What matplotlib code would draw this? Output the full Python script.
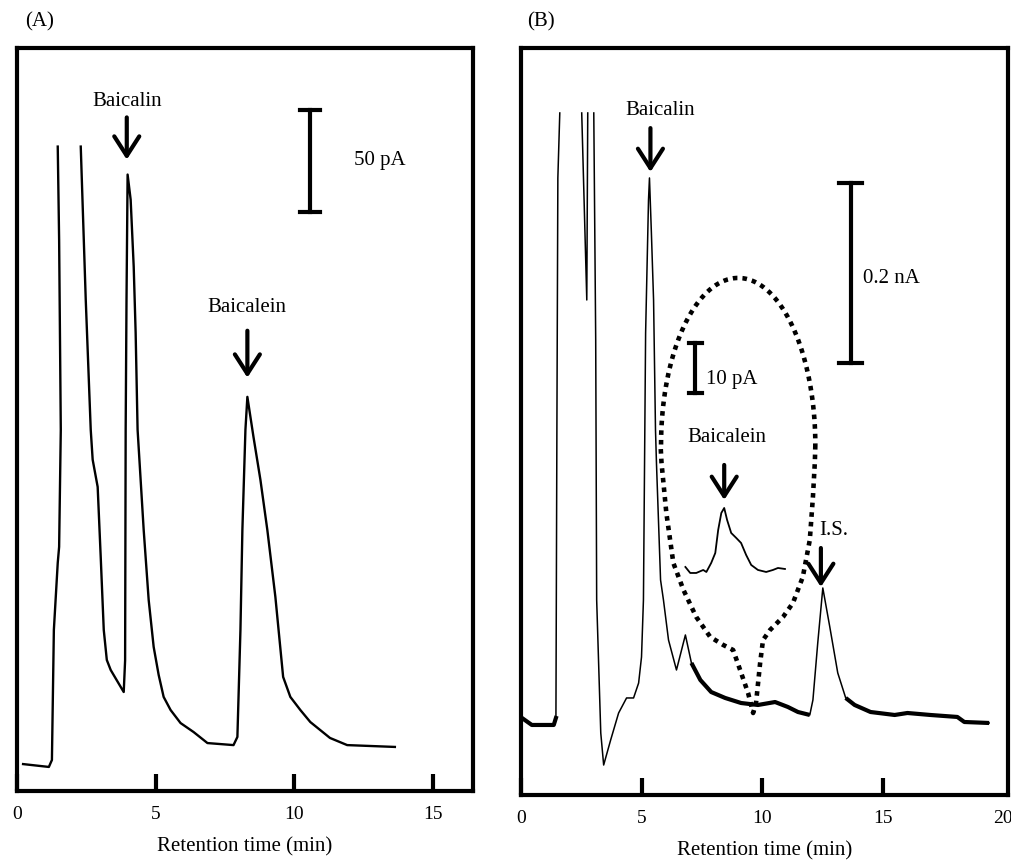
import numpy as np
import matplotlib.pyplot as plt

plt.rcParams['font.family'] = ['Liberation Serif', 'DejaVu Serif']

# ---- Panel A: cromatograma del estandar (tiempo en min, senal en pA) ----
ta_1 = [0.22, 1.15, 1.26, 1.33, 1.47, 1.52, 1.58, 1.52, 1.47]
ya_1 = [13.2, 11.8, 15.2, 78.9, 111.8, 119.6, 177.0, 270.0, 315.7]
ta_2 = [2.30, 2.48, 2.66, 2.73, 2.91, 3.02, 3.13, 3.24, 3.38, 3.85, 3.90, 3.92, 3.95, 3.99,
        4.10, 4.21, 4.28, 4.35, 4.57, 4.75, 4.93, 5.11, 5.29, 5.54, 5.90, 6.37, 6.87, 7.81,
        7.95, 8.06, 8.13, 8.24, 8.31, 8.53, 8.78, 9.03, 9.32, 9.60, 9.86, 10.22, 10.58,
        11.29, 11.91, 13.63]
ya_2 = [315.7, 240.7, 177.0, 162.3, 149.0, 114.7, 78.9, 64.2, 59.3, 48.5, 64.0, 177.0, 240.0, 302.0,
        289.7, 256.9, 224.5, 177.0, 127.9, 93.6, 70.6, 56.9, 46.1, 39.7, 33.3, 28.9, 23.5, 22.5,
        26.5, 78.9, 127.9, 177.0, 193.1, 173.5, 152.5, 127.9, 95.1, 55.9, 46.1, 39.7, 33.8,
        26.0, 22.5, 21.6]

# ---- Panel B: muestra de plasma ----
tb_1 = [0.04, 0.45, 1.36, 1.45, 1.49, 1.53, 1.61]
yb_1 = [85.6, 77.8, 77.8, 85.6, 405.6, 685.6, 757.8]
tb_2 = [2.52, 2.73, 2.77]
yb_2 = [757.8, 550.0, 757.8]
tb_3 = [3.02, 3.10, 3.14, 3.31, 3.43, 3.72, 4.05, 4.38, 4.67, 4.88, 5.00, 5.08, 5.17, 5.29,
        5.33, 5.41, 5.50, 5.58, 5.62, 5.79, 5.91, 6.12, 6.45, 6.82, 7.07, 7.44, 7.89, 8.47,
        9.13, 9.83, 10.54, 11.07, 11.49, 11.98, 12.11, 12.31, 12.52, 12.81, 13.14, 13.47,
        13.84, 14.50, 15.50, 16.03, 16.98, 18.10, 18.39, 19.42]
yb_3 = [757.8, 505.6, 216.7, 68.9, 33.3, 61.1, 91.1, 107.8, 107.8, 124.4, 153.3, 216.7, 513.3, 661.1,
        685.6, 624.4, 550.0, 405.6, 368.9, 238.9, 216.7, 172.2, 138.9, 177.8, 146.7, 127.8, 114.4, 107.8,
        102.2, 100.0, 103.3, 97.8, 92.2, 88.9, 105.6, 168.9, 230.0, 186.7, 135.6, 107.8,
        100.0, 92.2, 88.9, 91.1, 88.9, 86.7, 81.1, 80.0]

# ampliacion de baicaleina (pA, escala del recuadro)
t_zoom = [6.82, 7.02, 7.27, 7.56, 7.69, 7.89, 8.06, 8.18, 8.31, 8.43, 8.55, 8.72, 8.93,
          9.13, 9.34, 9.55, 9.83, 10.17, 10.45, 10.66, 10.95]
y_zoom = [0.8, -0.4, -0.4, 0.2, -0.2, 1.6, 3.6, 8.2, 11.6, 12.6, 10.2, 7.6, 6.6,
          5.6, 3.2, 1.2, 0.2, -0.2, 0.2, 0.6, 0.4]
zoom_offset = 248.9
zoom_factor = 5.556   # 10 pA del recuadro equivalen a 55.6 pA del eje

# contorno punteado (parte inferior)
lazo_t = [5.83, 6.03, 6.32, 6.74, 7.27, 7.85, 8.39, 8.80, 9.09, 9.42, 9.63, 9.75, 9.92,
          10.04, 10.33, 10.87, 11.28, 11.69, 11.98, 12.11, 12.19, 12.21]
lazo_y = [368.9, 313.3, 257.8, 227.8, 197.8, 175.6, 166.7, 161.1, 138.9, 113.3, 91.1, 102.2, 146.7,
          172.2, 183.3, 197.8, 213.3, 242.2, 283.3, 331.1, 370.0, 388.9]

fig = plt.figure(figsize=(10.11, 8.6), dpi=100)
axA = fig.add_axes([0.0168, 0.0802, 0.4511, 0.864])
axB = fig.add_axes([0.5153, 0.0756, 0.4817, 0.8686])

for ax in (axA, axB):
    for s in ax.spines.values():
        s.set_linewidth(3)
    ax.set_yticks([])
    ax.tick_params(axis='x', direction='in', length=12, width=3, pad=11, labelsize=14)
    ax.set_xlabel('Retention time (min)', fontsize=15, labelpad=10)

flecha = dict(arrowstyle='->,head_length=0.7,head_width=0.45', lw=3, color='black',
              mutation_scale=20, shrinkA=0, shrinkB=0)

# Panel A
axA.plot(ta_1, ya_1, color='black', lw=1.7)
axA.plot(ta_2, ya_2, color='black', lw=1.7)
axA.set_xlim(0, 16.45)
axA.set_ylim(0, 364)
axA.set_xticks([0, 5, 10, 15])
axA.text(3.96, 337.7, 'Baicalin', ha='center', va='center', fontsize=15)
axA.annotate('', xy=(3.96, 309.3), xytext=(3.96, 330), arrowprops=flecha)
axA.text(8.31, 236.8, 'Baicalein', ha='center', va='center', fontsize=15)
axA.annotate('', xy=(8.31, 202.5), xytext=(8.31, 225.5), arrowprops=flecha)
axA.plot([10.58, 10.58], [283.8, 333.8], color='black', lw=3)
axA.plot([10.22, 10.94], [333.8, 333.8], color='black', lw=3)
axA.plot([10.22, 10.94], [283.8, 283.8], color='black', lw=3)
axA.text(12.16, 308.8, '50 pA', ha='left', va='center', fontsize=15)

# Panel B
for t, y in [(tb_1, yb_1), (tb_2, yb_2), (tb_3, yb_3)]:
    axB.plot(t, y, color='black', lw=1.1)
# linea base gruesa (ruido del registro)
t3 = np.array(tb_3)
y3 = np.array(yb_3, dtype=float)
y3_base = np.where((t3 >= 6.9) & ~((t3 > 12.0) & (t3 < 13.4)), y3, np.nan)
axB.plot(t3, y3_base, color='black', lw=3, solid_capstyle='butt')
axB.plot(tb_1[:4], yb_1[:4], color='black', lw=3)

y_zoom_eje = zoom_offset + np.array(y_zoom) * zoom_factor
axB.plot(t_zoom, y_zoom_eje, color='black', lw=1.3)

ang = np.linspace(np.pi, 0, 80)
arco_t = 9.01 + 3.20 * np.cos(ang)
arco_y = 388.9 + 185.6 * np.sin(ang)
contorno_t = np.concatenate([lazo_t[::-1], [5.79], arco_t])
contorno_y = np.concatenate([lazo_y[::-1], [388.9], arco_y])
axB.plot(contorno_t, contorno_y, color='black', lw=3.3,
         linestyle=(0, (1.0, 1.1)), dash_capstyle='butt')

axB.set_xlim(0, 20.2)
axB.set_ylim(0, 830)
axB.set_xticks([0, 5, 10, 15, 20])
axB.xaxis.get_major_ticks()[-1].tick1line.set_visible(False)

axB.text(5.79, 761, 'Baicalin', ha='center', va='center', fontsize=15)
axB.annotate('', xy=(5.37, 692.2), xytext=(5.37, 741), arrowprops=flecha)
axB.text(8.55, 396.7, 'Baicalein', ha='center', va='center', fontsize=15)
axB.annotate('', xy=(8.43, 327.8), xytext=(8.43, 366.7), arrowprops=flecha)
axB.text(12.98, 294.4, 'I.S.', ha='center', va='center', fontsize=15)
axB.annotate('', xy=(12.44, 231.1), xytext=(12.44, 274.4), arrowprops=flecha)

axB.plot([13.68, 13.68], [480, 680], color='black', lw=3)
axB.plot([13.2, 14.15], [680, 680], color='black', lw=3)
axB.plot([13.2, 14.15], [480, 480], color='black', lw=3)
axB.text(14.17, 574.4, '0.2 nA', ha='left', va='center', fontsize=15)

axB.plot([7.23, 7.23], [446.7, 502.2], color='black', lw=3)
axB.plot([6.96, 7.50], [502.2, 502.2], color='black', lw=3)
axB.plot([6.96, 7.50], [446.7, 446.7], color='black', lw=3)
axB.text(7.69, 461.1, '10 pA', ha='left', va='center', fontsize=15)

fig.text(25 / 1011, 1 - 22 / 860, '(A)', ha='left', va='center', fontsize=15)
fig.text(527 / 1011, 1 - 22 / 860, '(B)', ha='left', va='center', fontsize=15)

fig.savefig('out.png', dpi=100)
